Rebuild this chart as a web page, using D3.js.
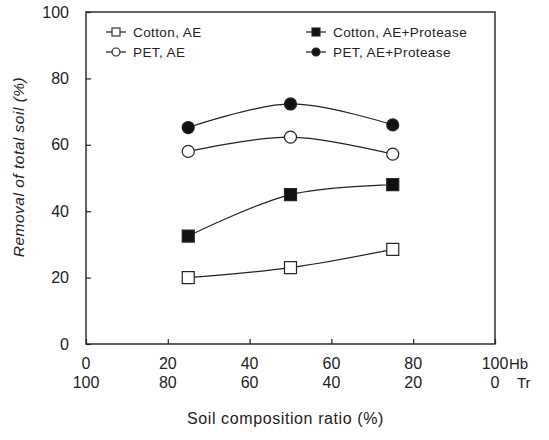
<!DOCTYPE html>
<html>
<head>
<meta charset="utf-8">
<script src="https://cdn.jsdelivr.net/npm/d3@7"></script>
<style>
  body { margin: 0; background: #fff; }
  text { font-family: "Liberation Sans", Arial, sans-serif; fill: #222; }
</style>
</head>
<body>
<div id="wrapper"></div>
<script>
// Data
const ratios = [25, 50, 75]
const cottonAE = [20, 23, 28.5]
const cottonAEProtease = [32.5, 45, 48]
const petAE = [58, 62.3, 57.2]
const petAEProtease = [65.2, 72.3, 66]
const hbTicks = [0, 20, 40, 60, 80, 100]
const trTicks = [100, 80, 60, 40, 20, 0]
const yTicks = [0, 20, 40, 60, 80, 100]

const series = [
  { name: "Cotton, AE", values: cottonAE, shape: "square", filled: false },
  { name: "PET, AE", values: petAE, shape: "circle", filled: false },
  { name: "Cotton, AE+Protease", values: cottonAEProtease, shape: "square", filled: true },
  { name: "PET, AE+Protease", values: petAEProtease, shape: "circle", filled: true },
]

// Bounds
let dms = {
  width: 549,
  height: 440,
  margin: { top: 12, right: 54, bottom: 96, left: 86 },
}
dms.boundedWidth = dms.width - dms.margin.left - dms.margin.right
dms.boundedHeight = dms.height - dms.margin.top - dms.margin.bottom

const wrapper = d3.select("#wrapper")
  .append("svg")
  .attr("width", dms.width)
  .attr("height", dms.height)

const bounds = wrapper.append("g")
  .attr("transform", `translate(${dms.margin.left},${dms.margin.top})`)

// Scales
const xScale = d3.scaleLinear()
  .domain([0, 100])
  .range([0, dms.boundedWidth])

const yScale = d3.scaleLinear()
  .domain([0, 100])
  .range([dms.boundedHeight, 0])

// Frame
bounds.append("rect")
  .attr("width", dms.boundedWidth)
  .attr("height", dms.boundedHeight)
  .attr("fill", "none")
  .attr("stroke", "#222")
  .attr("stroke-width", 1.4)

// Axes (ticks pointing inward)
const yAxis = bounds.append("g")
  .call(d3.axisLeft(yScale).tickValues(yTicks).tickSizeInner(-5).tickSizeOuter(0).tickPadding(17))
yAxis.select(".domain").remove()
yAxis.selectAll("line").attr("stroke", "#222").attr("stroke-width", 1.2)
yAxis.selectAll("text").attr("font-size", 16).attr("fill", "#222")

const xAxis = bounds.append("g")
  .attr("transform", `translate(0,${dms.boundedHeight})`)
  .call(d3.axisBottom(xScale).tickValues(hbTicks).tickSizeInner(-5).tickSizeOuter(0).tickFormat(""))
xAxis.select(".domain").remove()
xAxis.selectAll("line").attr("stroke", "#222").attr("stroke-width", 1.2)

// Two rows of x labels
const labelsG = bounds.append("g")
labelsG.selectAll(".hb")
  .data(hbTicks)
  .join("text")
  .attr("x", d => xScale(d))
  .attr("y", dms.boundedHeight + 25)
  .attr("text-anchor", "middle")
  .attr("font-size", 16)
  .text(d => d)
labelsG.selectAll(".tr")
  .data(hbTicks)
  .join("text")
  .attr("x", d => xScale(d))
  .attr("y", dms.boundedHeight + 44)
  .attr("text-anchor", "middle")
  .attr("font-size", 16)
  .text((d, i) => trTicks[i])

labelsG.append("text")
  .attr("x", xScale(100) + 14)
  .attr("y", dms.boundedHeight + 25)
  .attr("font-size", 15)
  .text("Hb")
labelsG.append("text")
  .attr("x", xScale(100) + 22)
  .attr("y", dms.boundedHeight + 44)
  .attr("font-size", 15)
  .text("Tr")

// Axis titles
bounds.append("text")
  .attr("x", dms.boundedWidth / 2 - 5)
  .attr("y", dms.boundedHeight + 80)
  .attr("text-anchor", "middle")
  .attr("font-size", 16)
  .attr("letter-spacing", "0.6px")
  .text("Soil composition ratio (%)")

bounds.append("text")
  .attr("transform", `translate(${-62},${155}) rotate(-90)`)
  .attr("text-anchor", "middle")
  .attr("font-size", 15.5)
  .attr("font-style", "italic")
  .attr("letter-spacing", "0.5px")
  .text("Removal of total soil (%)")

// Lines
const lineGen = d3.line()
  .x((d, i) => xScale(ratios[i]))
  .y(d => yScale(d))
  .curve(d3.curveCatmullRom.alpha(0.5))

const seriesG = bounds.append("g")
seriesG.selectAll("path")
  .data(series)
  .join("path")
  .attr("d", d => lineGen(d.values))
  .attr("fill", "none")
  .attr("stroke", "#222")
  .attr("stroke-width", 1.2)

// Markers
function drawMarker(sel, shape, filled, x, y) {
  if (shape === "square") {
    sel.append("rect")
      .attr("x", x - 6)
      .attr("y", y - 6)
      .attr("width", 12)
      .attr("height", 12)
      .attr("fill", filled ? "#111" : "#fff")
      .attr("stroke", "#222")
      .attr("stroke-width", 1.2)
  } else {
    sel.append("circle")
      .attr("cx", x)
      .attr("cy", y)
      .attr("r", 6)
      .attr("fill", filled ? "#111" : "#fff")
      .attr("stroke", "#222")
      .attr("stroke-width", 1.2)
  }
}

series.forEach(s => {
  const g = seriesG.append("g")
  s.values.forEach((v, i) => drawMarker(g, s.shape, s.filled, xScale(ratios[i]), yScale(v)))
})

// Legend
const legend = bounds.append("g")
const legendPos = [
  { x: 20, y: 20 },
  { x: 20, y: 40 },
  { x: 220, y: 20 },
  { x: 220, y: 40 },
]
series.forEach((s, i) => {
  const p = legendPos[i]
  const g = legend.append("g").attr("transform", `translate(${p.x},${p.y})`)
  g.append("line")
    .attr("x1", 0).attr("x2", 20)
    .attr("stroke", "#222").attr("stroke-width", 1.2)
  if (s.shape === "square") {
    g.append("rect").attr("x", 6).attr("y", -4).attr("width", 8).attr("height", 8)
      .attr("fill", s.filled ? "#111" : "#fff").attr("stroke", "#222").attr("stroke-width", 1.1)
  } else {
    g.append("circle").attr("cx", 10).attr("r", 4)
      .attr("fill", s.filled ? "#111" : "#fff").attr("stroke", "#222").attr("stroke-width", 1.1)
  }
  g.append("text")
    .attr("x", 27)
    .attr("y", 5)
    .attr("font-size", 13.5)
    .attr("letter-spacing", "0.4px")
    .text(s.name)
})
</script>
</body>
</html>
